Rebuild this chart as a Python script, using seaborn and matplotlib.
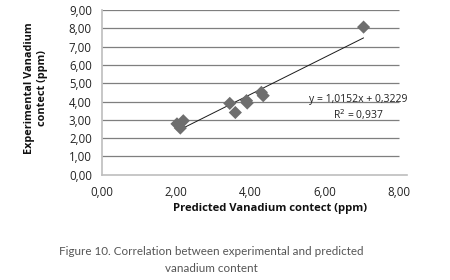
import numpy as np
import pandas as pd
import matplotlib
matplotlib.use("Agg")
import matplotlib.pyplot as plt
import seaborn as sns
from matplotlib.ticker import FuncFormatter

# values
predicted = [2.03, 2.12, 2.20, 3.45, 3.60, 3.90, 3.92, 4.30, 4.35, 7.05]
experimental = [2.78, 2.55, 2.95, 3.90, 3.40, 4.05, 3.92, 4.50, 4.32, 8.07]

slope = 1.0152
intercept = 0.3229
r_squared = 0.937
trend_x = [2.2, 7.05]

y_ticks = [0, 1, 2, 3, 4, 5, 6, 7, 8, 9]
x_ticks = [0, 2, 4, 6, 8]

df = pd.DataFrame({"pred": predicted, "exp": experimental})

sns.set_style("white")
plt.rcParams["font.family"] = ["Open Sans", "DejaVu Sans"]

fig = plt.figure(figsize=(4.5, 2.8), dpi=100)
ax = fig.add_axes([0.2256, 0.376, 0.679, 0.588])

# gridlines only across 0..8
ax.hlines(y_ticks[1:], 0, 8, color="#7f7f7f", linewidth=0.9, zorder=1)

sns.scatterplot(data=df, x="pred", y="exp", marker="D", s=45, color="#6e6e6e",
                edgecolor="none", ax=ax, zorder=3)

tx = np.array(trend_x)
ax.plot(tx, slope * tx + intercept, color="#1a1a1a", linewidth=0.7, zorder=2)

ax.set_xlim(0, 8.22)
ax.set_ylim(0, 9)
ax.set_xticks(x_ticks)
ax.set_yticks(y_ticks)
fmt = FuncFormatter(lambda v, p: f"{v:.2f}".replace(".", ","))
ax.xaxis.set_major_formatter(fmt)
ax.yaxis.set_major_formatter(fmt)
ax.tick_params(axis="both", labelsize=8.3, colors="#222222", length=3, width=0.8)
ax.tick_params(axis="x", direction="inout", length=4, color="#aaaaaa", pad=6)
ax.tick_params(axis="y", direction="out", length=3, color="#aaaaaa", pad=4)

for s in ["top", "right"]:
    ax.spines[s].set_visible(False)
for s in ["left", "bottom"]:
    ax.spines[s].set_color("#bdbdbd")
    ax.spines[s].set_linewidth(1.2)

ax.set_xlabel("")
ax.set_ylabel("")
fig.text(0.60, 0.255, "Predicted Vanadium contect (ppm)", ha="center", va="center",
         fontsize=8.1, fontweight="bold", color="#111111")
fig.text(0.08, 0.685, "Experimental Vanadium\ncontect (ppm)", ha="center", va="center",
         rotation=90, fontsize=7.8, fontweight="bold", color="#111111", linespacing=1.15)

ax.text(6.9, 3.66, f"y = {slope:.4f}x + {intercept:.4f}\nR$^2$ = {r_squared:.3f}".replace(".", ","),
        ha="center", va="center", fontsize=7.5, color="#222222", linespacing=1.2)

fig.text(0.47, 0.103, "Figure 10. Correlation between experimental and predicted",
         ha="center", va="center", fontsize=8.4, color="#555555", family=["Lato", "DejaVu Sans"])
fig.text(0.47, 0.042, "vanadium content",
         ha="center", va="center", fontsize=8.4, color="#555555", family=["Lato", "DejaVu Sans"])

fig.savefig("out.png", dpi=100)
